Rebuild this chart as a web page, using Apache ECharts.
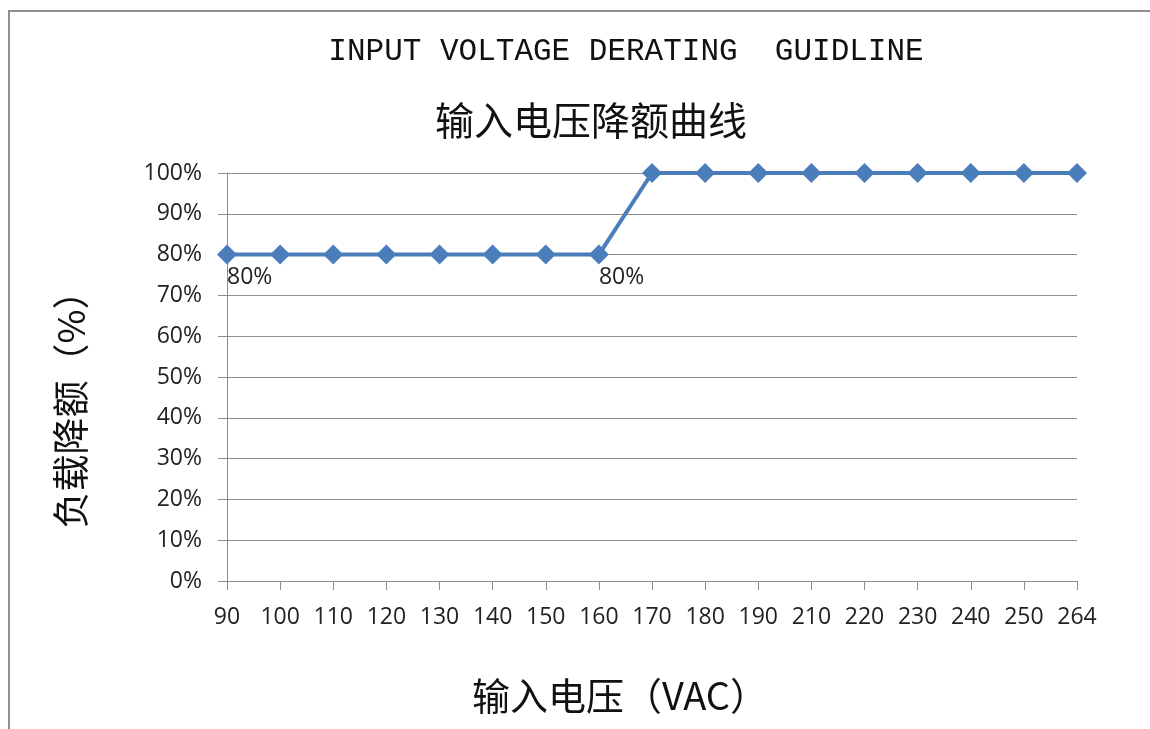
<!DOCTYPE html>
<html>
<head>
<meta charset="utf-8">
<script src="https://cdn.jsdelivr.net/npm/echarts@6/dist/echarts.min.js"></script>
<style>
html,body{margin:0;padding:0;background:#fff;}
#chart{width:1150px;height:729px;}
</style>
</head>
<body>
<div id="chart"></div>
<script>
var titleEn = 'INPUT VOLTAGE DERATING  GUIDLINE';
var titleZh = '输入电压降额曲线';
var xName = '输入电压（VAC）';
var yName = '负载降额（%）';
var categories = ['90','100','110','120','130','140','150','160','170','180','190','210','220','230','240','250','264'];
var deratingValues = [80,80,80,80,80,80,80,80,100,100,100,100,100,100,100,100,100];
var labeledIdx = [0, 7];

var seriesData = deratingValues.map(function (v, i) {
  return labeledIdx.indexOf(i) >= 0 ? { value: v, label: { show: true } } : v;
});

var chart = echarts.init(document.getElementById('chart'), null, { renderer: 'canvas' });
var tickFont = '"Open Sans", "Noto Sans", sans-serif';
chart.setOption({
  animation: false,
  backgroundColor: '#ffffff',
  graphic: [{
    type: 'polyline',
    shape: { points: [[9, 729], [9, 11], [1150, 11]] },
    style: { stroke: '#8f8f8f', lineWidth: 2, fill: null },
    silent: true
  }],
  title: [{
    text: titleEn,
    left: 621, top: 31, textAlign: 'center',
    textStyle: { fontFamily: '"Liberation Mono", monospace', fontSize: 31, fontWeight: 'normal', color: '#111' }
  }, {
    text: titleZh,
    left: 586, top: 96, textAlign: 'center',
    textStyle: { fontFamily: '"Noto Sans CJK SC", sans-serif', fontSize: 39, fontWeight: 'normal', color: '#111' }
  }],
  grid: { left: 227, right: 73, top: 173, bottom: 148, containLabel: false },
  xAxis: {
    type: 'category',
    data: categories,
    boundaryGap: false,
    name: xName,
    nameLocation: 'middle',
    nameGap: 96,
    nameTextStyle: { fontFamily: '"Noto Sans CJK SC", sans-serif', fontSize: 38, color: '#111', padding: [0, 64, 0, 0] },
    axisLine: { show: true, lineStyle: { color: '#8c8c8c', width: 1 } },
    axisTick: { show: true, length: 9, inside: false, lineStyle: { color: '#8c8c8c' } },
    axisLabel: { fontFamily: tickFont, fontSize: 23, color: '#222', margin: 25, interval: 0 },
    splitLine: { show: false }
  },
  yAxis: {
    type: 'value',
    min: 0, max: 100, interval: 10,
    name: yName,
    nameLocation: 'middle',
    nameRotate: 90,
    nameGap: 138,
    nameTextStyle: { fontFamily: '"Noto Sans CJK SC", sans-serif', fontSize: 37, color: '#111', padding: [0, 47, 0, 0] },
    axisLine: { show: true, lineStyle: { color: '#8c8c8c', width: 1 } },
    axisTick: { show: true, length: 9, inside: false, lineStyle: { color: '#8c8c8c' } },
    axisLabel: { formatter: '{value}%', fontFamily: tickFont, fontSize: 23, color: '#222', margin: 25 },
    splitLine: { show: true, lineStyle: { color: '#8c8c8c', width: 1 } }
  },
  series: [{
    type: 'line',
    data: seriesData,
    symbol: 'diamond',
    symbolSize: 20,
    showAllSymbol: true,
    lineStyle: { color: '#4a7ebb', width: 4 },
    itemStyle: { color: '#4a7ebb' },
    label: {
      show: false,
      position: 'bottom',
      align: 'left',
      distance: 1,
      formatter: '{c}%',
      fontFamily: tickFont, fontSize: 23, color: '#222'
    }
  }]
});
</script>
</body>
</html>
